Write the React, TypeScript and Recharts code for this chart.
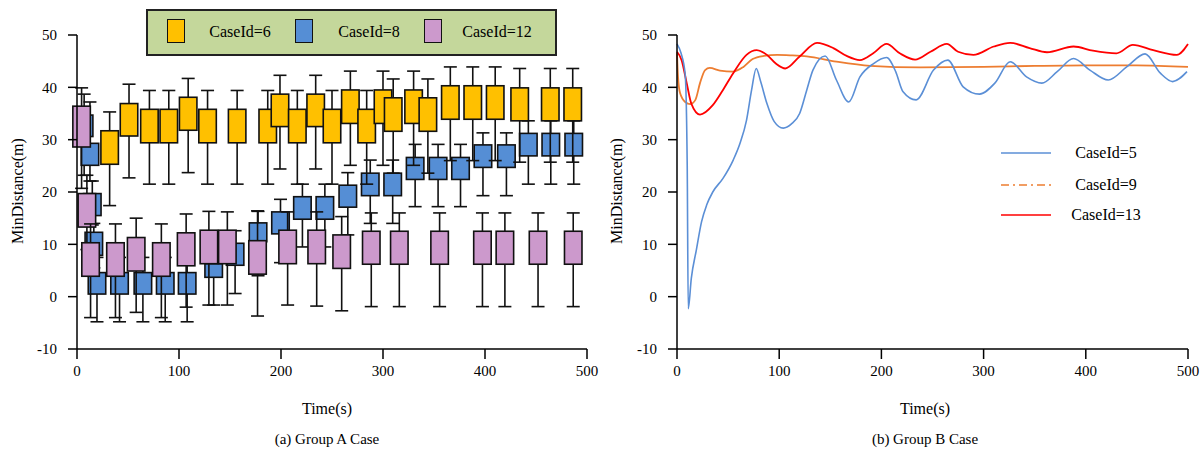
import React from "react";
import { ComposedChart, Bar, LineChart, Line, XAxis, YAxis } from "recharts";

const FONT = '"Liberation Serif", "Times New Roman", serif';

// ---- (a) Group A: box plots (centre time, whisker low, box low, box high, whisker high)
const c6Time = [32, 51, 71, 90, 109, 128, 157, 187, 199, 216, 234, 250, 268, 284, 300, 310, 330, 344, 366, 388, 410, 434, 464, 486];
const c6Min = [17.4, 22.7, 21.5, 21.5, 23.7, 21.5, 21.5, 21.5, 24.4, 21.5, 24.4, 21.5, 25.1, 21.5, 25.1, 23.6, 25.1, 23.6, 26.0, 26.0, 26.0, 25.7, 25.7, 25.7];
const c6Q1 = [25.3, 30.7, 29.4, 29.4, 31.8, 29.4, 29.4, 29.4, 32.5, 29.4, 32.5, 29.4, 33.1, 29.4, 33.1, 31.6, 33.1, 31.6, 33.9, 33.9, 33.9, 33.6, 33.6, 33.6];
const c6Q3 = [31.7, 36.9, 35.8, 35.8, 38.1, 35.8, 35.8, 35.8, 38.7, 35.8, 38.7, 35.8, 39.5, 35.8, 39.5, 38.0, 39.5, 38.0, 40.3, 40.3, 40.3, 39.9, 39.9, 39.9];
const c6Max = [35.3, 40.6, 39.4, 39.4, 41.7, 39.4, 39.4, 39.4, 42.3, 39.4, 42.3, 39.4, 43.1, 39.4, 43.1, 41.6, 43.1, 41.6, 43.9, 43.9, 43.9, 43.6, 43.6, 43.6];

const c8Time = [7, 12.7, 15, 16.5, 19.6, 41.7, 64.6, 86.5, 108, 134, 155, 177.5, 199.5, 221, 243, 265.5, 287.5, 309.5, 331.5, 354, 376, 398, 421, 442.5, 464.5, 487];
const c8Min = [23.2, 22.1, 13.7, 5.5, -4.8, -4.8, -4.8, -4.8, -4.8, -1.6, 0.6, 4.0, 6.5, 9.5, 9.5, 11.8, 14.0, 14.0, 17.2, 17.2, 17.2, 19.3, 19.3, 21.5, 21.5, 21.5];
const c8Q1 = [30.6, 25.1, 15.5, 7.9, 0.5, 0.5, 0.5, 0.5, 0.5, 3.7, 6.0, 10.5, 12.0, 14.8, 14.8, 17.1, 19.3, 19.3, 22.4, 22.4, 22.4, 24.7, 24.7, 26.9, 26.9, 26.9];
const c8Q3 = [34.7, 29.3, 19.7, 12.3, 4.6, 4.6, 4.6, 4.6, 4.6, 6.3, 10.2, 14.1, 16.2, 19.1, 19.1, 21.3, 23.6, 23.6, 26.6, 26.6, 26.6, 29.0, 29.0, 31.2, 31.2, 31.2];
const c8Max = [38.7, 37.2, 22.1, 14.0, 7.5, 7.5, 7.5, 7.5, 7.5, 8.0, 12.6, 16.3, 18.6, 21.5, 21.5, 23.7, 26.1, 26.1, 29.1, 29.1, 29.1, 31.3, 31.3, 33.6, 33.6, 33.6];

const c12Time = [4.5, 9.7, 13.3, 37.7, 58, 82.7, 107, 129.3, 147.4, 177, 206.5, 235, 259.5, 288.5, 316, 355.5, 397.5, 419.5, 452, 486.5];
const c12Min = [20.7, 9.0, -4.0, -4.0, -3.0, -4.0, -2.0, -1.6, -1.6, -3.7, -1.6, -1.8, -2.7, -1.9, -1.9, -1.9, -1.9, -1.9, -1.9, -1.9];
const c12Q1 = [28.6, 13.3, 3.9, 3.9, 4.9, 3.9, 5.9, 6.3, 6.3, 4.3, 6.3, 6.3, 5.4, 6.2, 6.2, 6.2, 6.2, 6.2, 6.2, 6.2];
const c12Q3 = [36.4, 19.7, 10.3, 10.3, 11.3, 10.3, 12.2, 12.7, 12.7, 10.7, 12.7, 12.7, 11.8, 12.5, 12.5, 12.5, 12.5, 12.5, 12.5, 12.5];
const c12Max = [39.9, 23.2, 13.9, 13.9, 15.0, 13.9, 15.8, 16.3, 16.2, 16.4, 16.2, 16.2, 15.3, 16.0, 16.0, 16.0, 16.0, 16.0, 16.0, 16.0];

// ---- (b) Group B: lines
const c5Time = [0, 4, 8, 10, 11, 14, 19, 24, 29, 35, 45, 55, 62, 68, 73, 77.5, 82, 88, 95, 104, 112, 120, 127, 133, 145, 156, 168, 179, 192, 205, 214, 221, 234, 251, 265, 280, 296, 311, 326, 342, 357, 372, 388, 404, 422, 440, 458, 473, 485, 499];
const c5Vals = [48.3, 46.5, 42.5, 25, -2.3, 3.5, 9, 14.3, 17.5, 20, 22.6, 26.1, 29.5, 33.7, 39.5, 43.6, 41, 36.9, 33.5, 32.2, 33, 35, 39.5, 43.3, 46, 41.4, 37.2, 42, 44.5, 45.7, 43, 39.2, 37.6, 43.3, 45.2, 40.1, 38.7, 40.8, 44.9, 42, 40.8, 43, 45.5, 43.3, 41.4, 43.9, 46.4, 42.7, 41.1, 43];

const c9Time = [0, 1, 3, 8, 13, 18, 22.5, 27.5, 32, 42, 55, 65, 74, 85, 98, 112, 127, 156, 189, 238, 300, 350, 400, 450, 500];
const c9Vals = [46.5, 42, 38.9, 37.2, 36.8, 37.6, 40.8, 43.3, 43.7, 43.2, 43, 43.9, 45.4, 46, 46.2, 46.1, 45.9, 44.9, 44.1, 43.8, 43.9, 44.1, 44.2, 44.2, 43.9];

const c13Time = [0, 4.5, 9.5, 14, 22.5, 35, 45, 55, 68, 78, 88, 97, 106, 120, 137, 153, 166, 179, 192, 205, 218, 233, 248, 264, 275, 290, 310, 326, 345, 362, 388, 407, 430, 446, 466, 489, 500];
const c13Vals = [46.8, 45.2, 40.8, 36.9, 34.8, 36.6, 39.5, 42.7, 46.2, 47.1, 46.2, 44.5, 43.6, 45.9, 48.5, 47.5, 46, 45.2, 46.5, 48.3, 46.5, 45.3, 46.8, 48.3, 46.8, 46.2, 47.8, 48.5, 47.5, 46.7, 47.8, 47, 46.5, 48.1, 47.1, 46.2, 48.3];

const xTicks = [0, 100, 200, 300, 400, 500];
const yTicks = [-10, 0, 10, 20, 30, 40, 50];

const boxColors: Record<string, string> = { c6: "#FFC000", c8: "#558ED5", c12: "#CC99CC" };
const lineColors = { c5: "#5B8FD6", c9: "#ED7D31", c13: "#FF0000" };

const toRows = (series: string, t: number[], lo: number[], q1: number[], q3: number[], hi: number[]) =>
  t.map((v, i) => ({ t: v, series, lo: lo[i], q1: q1[i], q3: q3[i], hi: hi[i] }));

// draw order: blue, yellow, pink (pink sits on top)
const boxRows = [
  ...toRows("c8", c8Time, c8Min, c8Q1, c8Q3, c8Max),
  ...toRows("c6", c6Time, c6Min, c6Q1, c6Q3, c6Max),
  ...toRows("c12", c12Time, c12Min, c12Q1, c12Q3, c12Max),
];

const toPts = (t: number[], v: number[]) => t.map((x, i) => ({ t: x, v: v[i] }));

const BOX_W = 17.5;
const CAP_W = 13;

const BoxShape = (props: any) => {
  const { x, y, width, height, payload } = props;
  if (!payload || !isFinite(x) || !isFinite(y) || !isFinite(height)) return <g />;
  const cx = x + width / 2;
  const top = Math.min(y, y + height);
  const bottom = Math.max(y, y + height);
  const span = payload.hi - payload.lo;
  const py = (v: number) => top + ((payload.hi - v) / span) * (bottom - top);
  const yQ3 = py(payload.q3);
  const yQ1 = py(payload.q1);
  return (
    <g>
      <line x1={cx} x2={cx} y1={top} y2={bottom} stroke="#111" strokeWidth={1.6} />
      <line x1={cx - CAP_W / 2} x2={cx + CAP_W / 2} y1={top} y2={top} stroke="#111" strokeWidth={1.6} />
      <line x1={cx - CAP_W / 2} x2={cx + CAP_W / 2} y1={bottom} y2={bottom} stroke="#111" strokeWidth={1.6} />
      <rect x={cx - BOX_W / 2} y={yQ3} width={BOX_W} height={yQ1 - yQ3} fill={boxColors[payload.series]} stroke="#111" strokeWidth={1.6} />
    </g>
  );
};

// serif tick labels
const SerifTick = (props: any) => {
  const { x, y, payload, textAnchor, verticalAnchor } = props;
  const dy = verticalAnchor === "start" ? "0.71em" : "0.355em";
  return (
    <text x={x} y={y} dy={dy} textAnchor={textAnchor} fill="#000" style={{ fontFamily: FONT, fontSize: 15 }}>
      {payload.value}
    </text>
  );
};

const axisStroke = { stroke: "#000", strokeWidth: 1.5 };

const Txt = ({ x, y, children, size = 16, rotate = false }: any) => (
  <div
    style={{
      position: "absolute",
      left: x,
      top: y,
      transform: `translate(-50%, -50%)${rotate ? " rotate(-90deg)" : ""}`,
      fontSize: size,
      lineHeight: 1,
      whiteSpace: "nowrap",
      color: "#000",
    }}
  >
    {children}
  </div>
);

const Swatch = ({ left, color }: { left: number; color: string }) => (
  <div
    style={{
      position: "absolute",
      left,
      top: 10,
      width: 18,
      height: 24,
      background: color,
      border: "1.5px solid #111",
      boxSizing: "border-box",
    }}
  />
);

const LegendLine = ({ y, color, dash }: { y: number; color: string; dash?: string }) => (
  <svg style={{ position: "absolute", left: 1000, top: y - 3 }} width={52} height={6}>
    <line x1={1} x2={51} y1={3} y2={3} stroke={color} strokeWidth={1.6} strokeDasharray={dash} />
  </svg>
);

export default function App() {
  return (
    <div style={{ position: "absolute", left: 0, top: 0, width: 1201, height: 452, background: "#fff", fontFamily: FONT }}>
      {/* (a) Group A Case */}
      <div style={{ position: "absolute", left: 0, top: 0 }}>
        <ComposedChart width={600} height={400} data={boxRows} margin={{ top: 35, right: 13, bottom: 21, left: 37 }}>
          <XAxis
            type="number"
            dataKey="t"
            domain={[0, 500]}
            ticks={xTicks}
            tick={SerifTick}
            tickSize={10}
            tickMargin={6}
            axisLine={axisStroke}
            tickLine={axisStroke}
            height={30}
          />
          <YAxis
            type="number"
            domain={[-10, 50]}
            ticks={yTicks}
            tick={SerifTick}
            tickSize={9}
            tickMargin={11}
            axisLine={axisStroke}
            tickLine={axisStroke}
            width={40}
          />
          <Bar dataKey={(d: any) => [d.lo, d.hi]} shape={BoxShape} isAnimationActive={false} />
        </ComposedChart>
      </div>

      {/* (b) Group B Case */}
      <div style={{ position: "absolute", left: 600, top: 0 }}>
        <LineChart width={601} height={400} margin={{ top: 35, right: 13, bottom: 21, left: 37 }}>
          <XAxis
            type="number"
            dataKey="t"
            domain={[0, 500]}
            ticks={xTicks}
            tick={SerifTick}
            tickSize={10}
            tickMargin={6}
            axisLine={axisStroke}
            tickLine={axisStroke}
            height={30}
            allowDuplicatedCategory={false}
          />
          <YAxis
            type="number"
            domain={[-10, 50]}
            ticks={yTicks}
            tick={SerifTick}
            tickSize={9}
            tickMargin={11}
            axisLine={axisStroke}
            tickLine={axisStroke}
            width={40}
          />
          <Line data={toPts(c9Time, c9Vals)} dataKey="v" type="monotone" stroke={lineColors.c9} strokeWidth={1.8} dot={false} isAnimationActive={false} />
          <Line data={toPts(c13Time, c13Vals)} dataKey="v" type="monotone" stroke={lineColors.c13} strokeWidth={1.8} dot={false} isAnimationActive={false} />
          <Line data={toPts(c5Time, c5Vals)} dataKey="v" type="monotone" stroke={lineColors.c5} strokeWidth={1.6} dot={false} isAnimationActive={false} />
        </LineChart>
      </div>

      {/* legend (a) */}
      <div
        style={{
          position: "absolute",
          left: 146,
          top: 9,
          width: 411,
          height: 47,
          background: "#C4D79B",
          border: "2px solid #222",
          boxSizing: "border-box",
        }}
      />
      <div style={{ position: "absolute", left: 146, top: 9 }}>
        <Swatch left={21} color={boxColors.c6} />
        <Swatch left={149} color={boxColors.c8} />
        <Swatch left={278} color={boxColors.c12} />
      </div>
      <Txt x={240} y={32}>CaseId=6</Txt>
      <Txt x={369} y={32}>CaseId=8</Txt>
      <Txt x={497} y={32}>CaseId=12</Txt>

      {/* legend (b) */}
      <LegendLine y={153} color={lineColors.c5} />
      <LegendLine y={185} color={lineColors.c9} dash="8 4 2 4" />
      <LegendLine y={215} color={lineColors.c13} />
      <Txt x={1106} y={153}>CaseId=5</Txt>
      <Txt x={1106} y={185}>CaseId=9</Txt>
      <Txt x={1106} y={215}>CaseId=13</Txt>

      {/* axis titles and captions */}
      <Txt x={18} y={191} rotate>MinDistance(m)</Txt>
      <Txt x={617} y={191} rotate>MinDistance(m)</Txt>
      <Txt x={327} y={409}>Time(s)</Txt>
      <Txt x={925} y={409}>Time(s)</Txt>
      <Txt x={327} y={439} size={15}>(a) Group A Case</Txt>
      <Txt x={925} y={439} size={15}>(b) Group B Case</Txt>
    </div>
  );
}
